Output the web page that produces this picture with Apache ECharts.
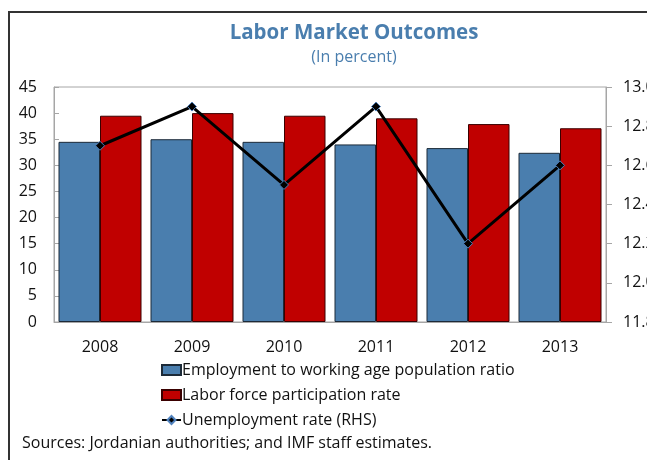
<!DOCTYPE html>
<html>
<head>
<meta charset="utf-8">
<script src="https://cdn.jsdelivr.net/npm/echarts@6/dist/echarts.min.js"></script>
<style>
  html, body { margin: 0; padding: 0; background: #fff; }
  #chart { width: 647px; height: 460px; }
</style>
</head>
<body>
<div id="chart"></div>
<script>
// Jordan labor market indicators, 2008-2013 (percent)
const years = ['2008', '2009', '2010', '2011', '2012', '2013'];
const employmentRatio = [34.5, 35.0, 34.5, 34.0, 33.3, 32.4];
const participationRate = [39.5, 40.0, 39.5, 39.0, 37.9, 37.1];
const unemploymentRate = [12.7, 12.9, 12.5, 12.9, 12.2, 12.6];

const FONT = '"Open Sans", "Noto Sans", sans-serif';
const BLUE = '#4a7eae';
const RED = '#c00000';
const AXIS_GRAY = '#a6a6a6';

const chart = echarts.init(document.getElementById('chart'), null, { renderer: 'canvas' });

chart.setOption({
  animation: false,
  textStyle: { fontFamily: FONT },
  grid: {
    left: 54, right: 41, top: 87, bottom: 138,
    outerBoundsMode: 'none',
    containLabel: false,
    show: true, borderColor: AXIS_GRAY, borderWidth: 1
  },
  graphic: [
    // outer frame (top and left edges)
    { type: 'polyline', silent: true,
      shape: { points: [[9, 460], [9, 12], [647, 12]] },
      style: { stroke: '#333', lineWidth: 2, fill: null } },
    { type: 'text', x: 354, y: 33, silent: true,
      style: { text: 'Labor Market Outcomes', font: 'bold 20.5px ' + FONT,
               fill: '#4a7eae', textAlign: 'center', textVerticalAlign: 'middle' } },
    { type: 'text', x: 354, y: 57, silent: true,
      style: { text: '(In percent)', font: '16px ' + FONT,
               fill: '#4a7eae', textAlign: 'center', textVerticalAlign: 'middle' } },
    { type: 'text', x: 22, y: 443, silent: true,
      style: { text: 'Sources: Jordanian authorities; and IMF staff estimates.',
               font: '16px ' + FONT, fill: '#111', textVerticalAlign: 'middle' } }
  ],
  legend: {
    orient: 'vertical',
    left: 156, top: 357,
    itemWidth: 19, itemHeight: 10, itemGap: 9,
    textStyle: { fontSize: 16, color: '#111', fontFamily: FONT, padding: [0, 0, 0, -4] },
    data: [
      { name: 'Employment to working age population ratio', icon: 'rect' },
      { name: 'Labor force participation rate', icon: 'rect' },
      { name: 'Unemployment rate (RHS)' }
    ]
  },
  xAxis: {
    type: 'category',
    data: years,
    axisLine: { lineStyle: { color: AXIS_GRAY } },
    axisTick: { inside: true, length: 5, lineStyle: { color: AXIS_GRAY } },
    axisLabel: { fontSize: 16, color: '#111', margin: 17, fontFamily: FONT }
  },
  yAxis: [
    {
      type: 'value', min: 0, max: 45, interval: 5,
      axisLine: { show: true, lineStyle: { color: AXIS_GRAY } },
      axisTick: { show: true, inside: true, length: 5, lineStyle: { color: AXIS_GRAY } },
      splitLine: { show: false },
      axisLabel: { fontSize: 16, color: '#111', margin: 17, fontFamily: FONT }
    },
    {
      type: 'value', min: 11.8, max: 13.0, interval: 0.2,
      position: 'right',
      axisLine: { show: true, lineStyle: { color: AXIS_GRAY } },
      axisTick: { show: true, inside: false, length: 6, lineStyle: { color: AXIS_GRAY } },
      splitLine: { show: false },
      axisLabel: { fontSize: 16, color: '#111', margin: 17, fontFamily: FONT,
                   formatter: v => v.toFixed(1) }
    }
  ],
  series: [
    {
      name: 'Employment to working age population ratio',
      type: 'bar', yAxisIndex: 0,
      data: employmentRatio,
      barWidth: 41.5, barGap: '0%',
      itemStyle: { color: BLUE, borderColor: '#1c2a38', borderWidth: 1 }
    },
    {
      name: 'Labor force participation rate',
      type: 'bar', yAxisIndex: 0,
      data: participationRate,
      barWidth: 41.5, barGap: '0%',
      itemStyle: { color: RED, borderColor: '#3a0000', borderWidth: 1 }
    },
    {
      name: 'Unemployment rate (RHS)',
      type: 'line', yAxisIndex: 1,
      data: unemploymentRate,
      symbol: 'diamond', symbolSize: 9,
      lineStyle: { color: '#000', width: 3 },
      itemStyle: { color: '#000', borderColor: '#4f81bd', borderWidth: 1 },
      z: 5
    }
  ]
});
</script>
</body>
</html>
